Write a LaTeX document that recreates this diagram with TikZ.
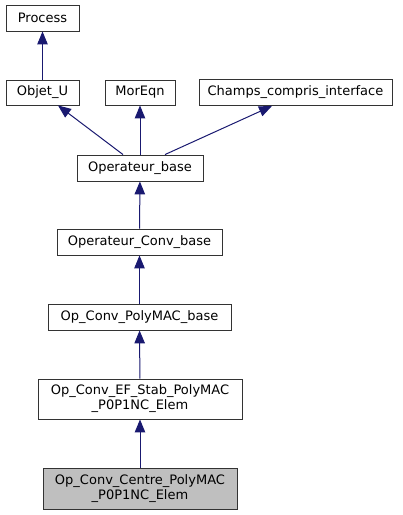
\documentclass[tikz,border=0pt]{standalone}
\usepackage{fontspec}
\setmainfont{DejaVu Sans}
\usepackage{xcolor}
\usepackage{tikz}
\usetikzlibrary{arrows.meta}

\definecolor{edgeblue}{RGB}{25,25,112}

\begin{document}
\begin{tikzpicture}[x=1pt,y=-1pt,
		cls/.style={draw=black!80,line width=0.9pt,fill=white,inner sep=0pt,
			align=center,font=\fontsize{13}{15}\selectfont},
		inherit/.style={draw=edgeblue,line width=1pt,
			-{Triangle[length=13pt,width=10.5pt]}}]
		\useasboundingbox (0,0) rectangle (403,515);
		\node[cls,minimum width=73pt,minimum height=26pt] (process) at (42.5,18) {Process};
		\node[cls,minimum width=73pt,minimum height=25pt] (objet) at (42.5,92.5) {Objet\_U};
		\node[cls,minimum width=70pt,minimum height=25pt] (moreqn) at (140,92.5) {MorEqn};
		\node[cls,minimum width=193pt,minimum height=26pt] (champs) at (295.5,92.5) {Champs\_compris\_interface};
		\node[cls,minimum width=126pt,minimum height=26pt] (opbase) at (140,168) {Operateur\_base};
		\node[cls,minimum width=165pt,minimum height=26pt] (opconv) at (139.5,242) {Operateur\_Conv\_base};
		\node[cls,minimum width=183pt,minimum height=26pt] (polymac) at (139.5,317) {Op\_Conv\_PolyMAC\_base};
		\node[cls,minimum width=204pt,minimum height=40pt] (efstab) at (140,399) {Op\_Conv\_EF\_Stab\_PolyMAC\\\_P0P1NC\_Elem};
		\node[cls,minimum width=194pt,minimum height=41pt,fill=black!25] (centre) at (140,488.5) {Op\_Conv\_Centre\_PolyMAC\\\_P0P1NC\_Elem};
		% inheritance
		\draw[inherit] (objet) -- (process);
		\draw[inherit] ([xshift=-17pt]opbase.north) -- ([xshift=15.5pt]objet.south);
		\draw[inherit] (opbase) -- (moreqn);
		\draw[inherit] ([xshift=25pt]opbase.north) -- ([xshift=-23.5pt]champs.south);
		\draw[inherit] (opconv) -- (opbase);
		\draw[inherit] (polymac) -- (opconv);
		\draw[inherit] (efstab) -- (polymac);
		\draw[inherit] (centre) -- (efstab);
	\end{tikzpicture}
\end{document}
